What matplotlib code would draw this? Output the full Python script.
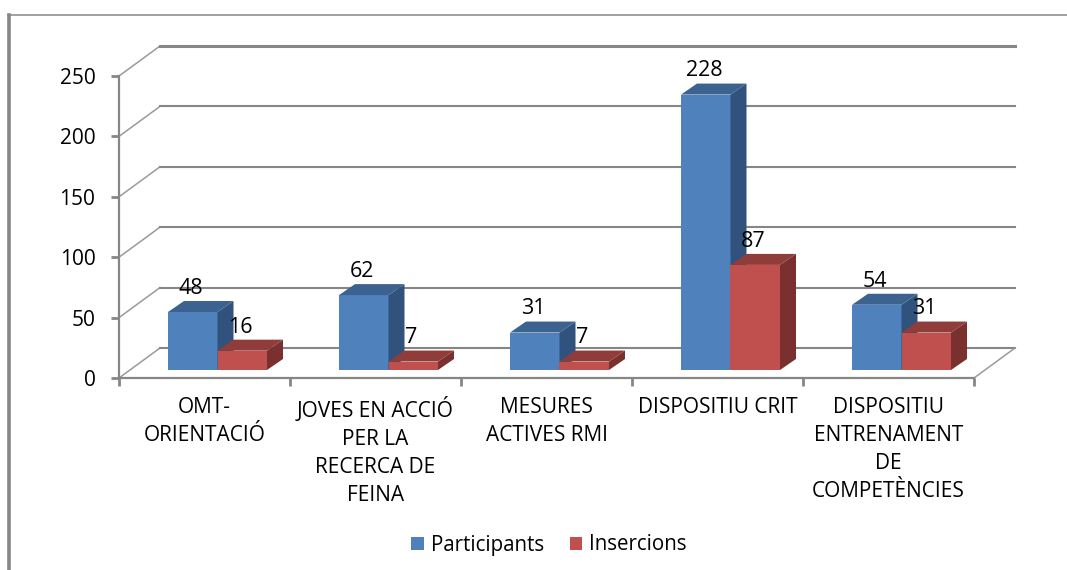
import matplotlib
matplotlib.use('Agg')
import matplotlib.pyplot as plt
from matplotlib.patches import Polygon, Patch
from matplotlib.lines import Line2D

categories = ['OMT-\nORIENTACIÓ', 'JOVES EN ACCIÓ\nPER LA\nRECERCA DE\nFEINA', 'MESURES\nACTIVES RMI',
              'DISPOSITIU CRIT', 'DISPOSITIU\nENTRENAMENT\nDE\nCOMPETÈNCIES']
participants = [48, 62, 31, 228, 54]
insercions = [16, 7, 7, 87, 31]
yticks = [0, 50, 100, 150, 200, 250]

W, H = 1067, 570
fig = plt.figure(figsize=(W / 100, H / 100), dpi=100)
plt.rcParams['font.family'] = ['Open Sans', 'DejaVu Sans']
GRAY = '#868686'

# front plane of the fake 3d box, in pixels
left, right, y0, y250 = 119, 974, 378, 76
ax = fig.add_axes([left / W, 1 - y0 / H, (right - left) / W, (y0 - y250) / H])
ax.set_xlim(0, 5)
ax.set_ylim(0, 250)
ax.patch.set_visible(False)
for s in ['top', 'right']:
    ax.spines[s].set_visible(False)
for s in ['left', 'bottom']:
    ax.spines[s].set_color(GRAY)
    ax.spines[s].set_linewidth(1.6)

px = (right - left) / 5.0       # pixels per category
py = (y0 - y250) / 250.0        # pixels per unit


def depth(dx, dy):
    return dx / px, dy / py


# walls and gridlines
bx, by = depth(41, 30)
for v in yticks:
    lw = 2.2 if v == 250 else 1.5
    ax.plot([0, bx], [v, v + by], color='#9a9a9a', lw=1.1, clip_on=False, zorder=1)
    ax.plot([bx, 5 + bx], [v + by, v + by], color=GRAY, lw=lw, clip_on=False, zorder=1)
ax.plot([5, 5 + bx], [0, by], color='#9a9a9a', lw=1.1, clip_on=False, zorder=1)


def bar3d(x, val, w, front, side, top):
    ox, oy = depth(4, 8)
    dx, dy = depth(16, 11)
    ax.bar(x + ox, val, w, bottom=oy, align='edge', color=front, clip_on=False, zorder=3)
    x0, x1, yb, yt = x + ox, x + ox + w, oy, oy + val
    ax.add_patch(Polygon([(x1, yb), (x1 + dx, yb + dy), (x1 + dx, yt + dy), (x1, yt)], fc=side, ec='none',
                         clip_on=False, zorder=3))
    ax.add_patch(Polygon([(x0, yt), (x0 + dx, yt + dy), (x1 + dx, yt + dy), (x1, yt)], fc=top, ec='none',
                         clip_on=False, zorder=3))


bw = 49.5 / px
start = 45 / px
# red goes after blue so it covers the blue side at the bottom
for i in range(len(categories)):
    bar3d(i + start, participants[i], bw, '#4f81bd', '#30527c', '#3c628f')
    bar3d(i + start + bw, insercions[i], bw, '#c0504d', '#7a302e', '#903c3a')
    for off, val in [(0, participants[i]), (bw, insercions[i])]:
        ax.annotate(str(val), (i + start + off + depth(4, 8)[0] + bw / 2 - 0.01, val + depth(4, 8)[1]), xytext=(0, 17),
                    textcoords='offset points', ha='center', va='center', fontsize=15.5, color='black', zorder=5,
                    annotation_clip=False)

ax.set_yticks(yticks)
ax.tick_params(axis='y', length=6, width=2, color=GRAY, labelsize=15, pad=11)
ax.set_xticks(range(6))
ax.set_xticklabels([])
ax.tick_params(axis='x', length=6, width=2, color=GRAY)
ax.set_xticks([i + 0.5 for i in range(5)], minor=True)
ax.set_xticklabels(categories, minor=True, fontsize=15, linespacing=1.43)
ax.tick_params(axis='x', which='minor', length=0, pad=14)

# chart frame
fig.add_artist(Line2D([8.5 / W, 8.5 / W], [0, 1 - 14.5 / H], color=GRAY, lw=2.6))
fig.add_artist(Line2D([8 / W, 1], [1 - 14.5 / H, 1 - 14.5 / H], color=GRAY, lw=1.1))

handles = [Patch(fc='#4f81bd', label='Participants'), Patch(fc='#c0504d', label='Insercions')]
fig.legend(handles=handles, loc='center', bbox_to_anchor=(549 / W, 1 - 545 / H), ncol=2, frameon=False, fontsize=14.8,
           handlelength=0.6, handleheight=0.6, handletextpad=0.35, columnspacing=1.25)

fig.savefig('out.png', dpi=100, facecolor='white')
